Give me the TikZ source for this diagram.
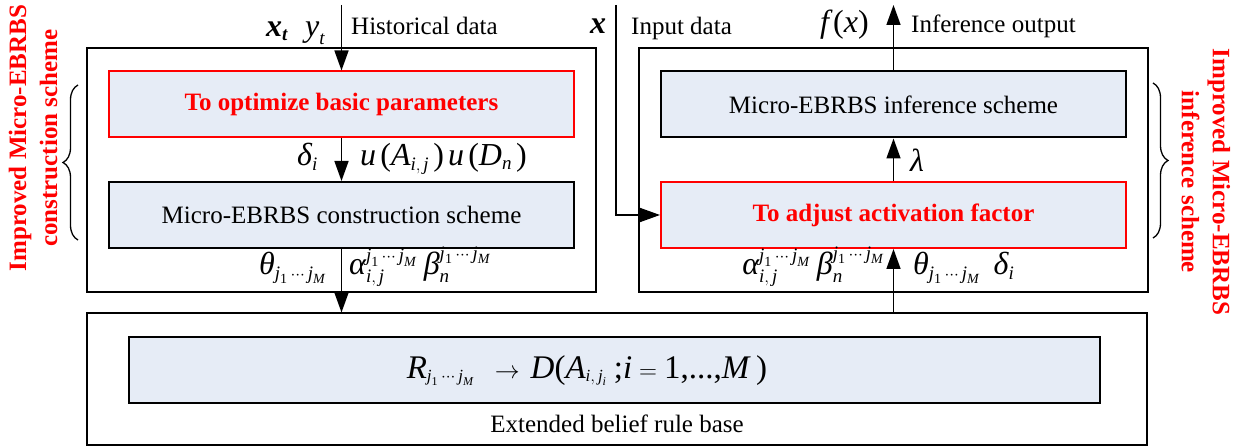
\documentclass[tikz,border=0pt]{standalone}
\usepackage{amsmath}
\usepackage{fontspec}
\setmainfont{Liberation Serif}
\usetikzlibrary{arrows.meta,decorations.pathreplacing}
\definecolor{boxfill}{RGB}{230,236,246}
\DeclareMathSizes{32}{32}{19}{14}
\DeclareMathSizes{33}{33}{17}{12}
\newcommand\mv[1]{\text{\itshape #1}}
\newcommand\mb[1]{\text{\bfseries\itshape #1}}
\newcommand\jj{\mv{j}_{\text{1}}\,\cdots\,\mv{j}_{\mv{M}}}
\begin{document}
\begin{tikzpicture}[x=1pt,y=-1pt,
  outerbox/.style={draw=black,line width=2pt,minimum width=#1,inner sep=0pt},
  innerbox/.style={draw=black,line width=2pt,fill=boxfill,minimum width=465pt,minimum height=66pt,inner sep=0pt,font=\fontsize{25}{30}\selectfont},
  redbox/.style={draw=red,line width=2pt,fill=boxfill,minimum width=465pt,minimum height=66pt,inner sep=0pt,font=\fontsize{25}{30}\selectfont\bfseries,text=red},
  arr/.style={line width=1.5pt,-{Triangle[length=20pt,width=14pt]}},
  lbl/.style={font=\fontsize{25}{30}\selectfont,inner sep=0pt},
  mlbl/.style={font=\fontsize{32}{38}\selectfont,inner sep=0pt},
  vlbl/.style={font=\fontsize{25}{31}\selectfont\bfseries,text=red,align=center,inner sep=0pt},
  brc/.style={line width=1.3pt,decorate,decoration={brace,amplitude=15pt}}]
\useasboundingbox (0,0) rectangle (1245,446);
% outer boxes
\node[outerbox=509pt,minimum height=244pt] (lout) at (341.5,170) {};
\node[outerbox=509pt,minimum height=244pt] (rout) at (893.5,170) {};
\node[outerbox=1060pt,minimum height=131pt] (bot) at (617,379) {};
% inner boxes
\node[redbox] (lred) at (341.5,104.5) {To optimize basic parameters};
\node[innerbox] (lcon) at (341.5,215) {Micro-EBRBS construction scheme};
\node[innerbox] (rinf) at (893.5,104.5) {Micro-EBRBS inference scheme};
\node[redbox] (radj) at (893.5,215) {To adjust activation factor};
\node[innerbox,minimum width=971pt] (rule) at (614.5,370) {};
\node[inner sep=0pt,font=\fontsize{33}{39}\selectfont,anchor=base] (form) at (587,378)
  {$\mv{R}_{\jj}\;\;\rightarrow\,\mv{D}\text{(}\mv{A}_{\mv{i},\,\mv{j}_{\mv{i}}}\;\text{;}\mv{i}=\text{1,...,}\mv{M}\;\text{)}$};
\node[lbl,anchor=base] (ebrb) at (617,432) {Extended belief rule base};
% free ends
\coordinate (hin) at (341.5,5);
\coordinate (xin) at (616,5);
\coordinate (xbend) at (616,215);
\coordinate (fout) at (893.5,5);
% connectors
\draw[arr] (hin) -- (lred.north);
\draw[arr] (lred.south) -- (lcon.north);
\draw[arr] (lcon.south) -- (lcon.south |- bot.north);
\draw[arr] (radj.south |- bot.north) -- (radj.south);
\draw[arr] (radj.north) -- (rinf.south);
\draw[arr] (rinf.north) -- (fout);
\draw[arr] (xin) -- (xbend) -- (radj.west);
% labels
\node[mlbl,anchor=base west] (xt) at (266,37) {$\mb{x}_{\mb{t}}$};
\node[mlbl,anchor=base west] (yt) at (305,37) {$\mv{y}_{\mv{t}}$};
\node[lbl,anchor=base west] (hist) at (351,35) {Historical data};
\node[mlbl,anchor=base west] (xx) at (590,34) {$\mb{x}$};
\node[lbl,anchor=base west] (inp) at (631,35) {Input data};
\node[mlbl,anchor=base west] (fx) at (820,33) {$\mv{f}\,\text{(}\mv{x}\text{)}$};
\node[lbl,anchor=base west] (infout) at (911,33) {Inference output};
\node[mlbl,anchor=base west] (del) at (297,166) {$\mv{δ}_{\mv{i}}$};
\node[mlbl,anchor=base west] (uu) at (360,166) {$\mv{u}\,\text{(}\mv{A}_{\mv{i},\,\mv{j}}\,\text{)}\,\mv{u}\,\text{(}\mv{D}_{\mv{n}}\,\text{)}$};
\node[mlbl,anchor=base west] (lam) at (910,172) {$\mv{λ}$};
\node[mlbl,anchor=base west] (th1) at (259,275) {$\mv{θ}_{\jj}$};
\node[mlbl,anchor=base west] (ab1) at (349,275) {$\mv{α}_{\mv{i},\,\mv{j}}^{\jj}\;\mv{β}_{\mv{n}}^{\jj}$};
\node[mlbl,anchor=base east] (ab2) at (884,275) {$\mv{α}_{\mv{i},\,\mv{j}}^{\jj}\;\mv{β}_{\mv{n}}^{\jj}$};
\node[mlbl,anchor=base west] (th2) at (913,275) {$\mv{θ}_{\jj}\;\;\mv{δ}_{\mv{i}}$};
% braces and side titles
\draw[brc] (78,240) -- (78,85);
\draw[brc] (1153,83) -- (1153,238);
\node[vlbl,rotate=90] (ltitle) at (33,138) {Improved Micro-EBRBS\\construction scheme};
\node[vlbl,rotate=-90] (rtitle) at (1206,182) {Improved Micro-EBRBS\\inference scheme};
\end{tikzpicture}
\end{document}
